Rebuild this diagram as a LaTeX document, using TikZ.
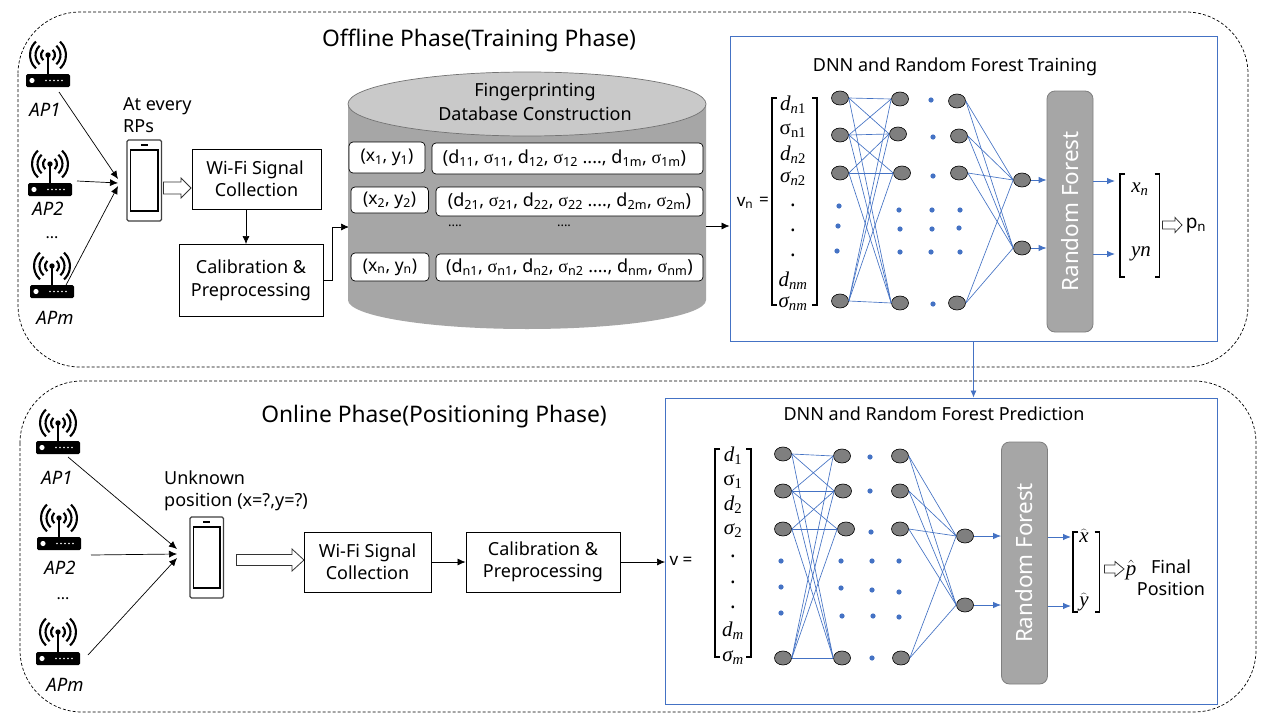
\documentclass[tikz,border=0pt]{standalone}
\usepackage{fontspec}
\setmainfont{Noto Sans}
\newfontfamily\serifgr{Liberation Serif}
\usetikzlibrary{arrows.meta,shapes.geometric}
\definecolor{nnblue}{HTML}{4472C4}
\definecolor{rfgray}{HTML}{A6A6A6}
\definecolor{rfedge}{HTML}{7F7F7F}
\definecolor{neuron}{HTML}{7F7F7F}
\definecolor{dbtop}{HTML}{C9C9C9}
\newcommand{\fs}[1]{\fontsize{#1}{#1}\selectfont}
\newcommand{\smallsub}[1]{\textsubscript{#1}}
\newcommand{\sg}{{\serifgr σ}}
\newcommand{\mi}[2]{{\serifgr\itshape #1\textsubscript{#2}}}
\newcommand{\mup}[2]{{\serifgr #1\textsubscript{#2}}}
\tikzset{
  phase/.style={dashed,dash pattern=on 3pt off 2pt,line width=0.7pt,draw=black,rounded corners=62pt},
  flowbox/.style={draw=black,line width=0.8pt,fill=white,inner sep=0pt,align=center,font=\fs{18}},
  rowbox/.style={draw=black,line width=0.7pt,fill=white,rounded corners=4pt,inner sep=0pt,font=\fs{17.5}},
  rowboxd/.style={rowbox,font=\fs{18}},
  flow/.style={-{Latex[length=8pt,width=7pt]},line width=0.7pt,black},
  nnpanel/.style={draw=nnblue,line width=0.9pt},
  neuronnode/.style={ellipse,draw=black,fill=neuron,line width=0.6pt,minimum width=17pt,minimum height=14pt,inner sep=0pt},
  nnline/.style={draw=nnblue,line width=0.65pt},
  nnarrow/.style={-{Latex[length=8pt,width=6.5pt]},nnblue,line width=0.9pt},
  rfbox/.style={draw=rfedge,line width=0.8pt,fill=rfgray,rounded corners=8pt,inner sep=0pt},
  rflabel/.style={rotate=90,text=white,font=\fs{22.4}},
  title/.style={font=\fs{22.8}},
  subtitle/.style={font=\fs{18}},
  aplabel/.style={font=\fs{18.5}\itshape},
  mathlabel/.style={inner sep=0pt,font=\fs{21}},
  plain/.style={inner sep=0pt,align=left,font=\fs{18}},
  holl/.style={draw=black!80,line width=0.8pt,fill=white},
  brk/.style={draw=black,line width=1.4pt}
}
% router: #1 = antenna x, #2 = arc-centre y, #3 = body top y
\newcommand{\router}[3]{%
  \fill[black,rounded corners=1.5pt] (#1-22,#3) rectangle (#1+22,#3+13);
  \fill[white] (#1-16,#3+6.5) circle (2.6);
  \foreach \k in {-1,3,7,11,15}{\fill[white] (#1+\k-1,#3+6.5) circle (0.9);}
  \draw[black,line width=2.2pt] (#1,#2) -- (#1,#3);
  \fill[black] (#1,#2) circle (2.7);
  \foreach \r in {7,12.5,18}{
    \draw[black,line width=2.1pt] ([shift={(-48:\r)}]#1,#2) arc (-48:48:\r);
    \draw[black,line width=2.1pt] ([shift={(132:\r)}]#1,#2) arc (132:228:\r);
  }
}
% phone
\newcommand{\phone}[4]{%
  \draw[black!75,line width=1.1pt,rounded corners=1.5pt,fill=white] (#1,#2) rectangle (#3,#4);
  \draw[black,line width=1.1pt] (#1+3.5,#2+10) rectangle (#3-3.5,#4-10);
  \draw[black,line width=1.1pt] ({(#1+#3)/2-3.5},#2+5) -- ({(#1+#3)/2+3.5},#2+5);
}
% hollow arrow: x1,xhead,x2,y,halfbody,halfhead
\newcommand{\hollow}[6]{%
  \draw[holl] (#1,#4-#5) -- (#2,#4-#5) -- (#2,#4-#6) -- (#3,#4) -- (#2,#4+#6) -- (#2,#4+#5) -- (#1,#4+#5) -- cycle;
}
% bracket pair: xl,xr,y1,y2
\newcommand{\brackets}[4]{%
  \draw[brk] (#1+5,#3) -- (#1,#3) -- (#1,#4) -- (#1+5,#4);
  \draw[brk] (#2-5,#3) -- (#2,#3) -- (#2,#4) -- (#2-5,#4);
}
\newcommand{\nndot}[2]{\fill[nnblue] (#1,#2) circle (2.6);}
\begin{document}
\begin{tikzpicture}[x=1pt,y=-1pt]
\useasboundingbox[fill=white] (0,0) rectangle (1280,720);
% phases
\draw[phase] (18,12) rectangle (1248,367);
\draw[phase] (20,381) rectangle (1256,712);
\node[title] (offT) at (479,41) {Offline Phase(Training Phase)};
\node[title] (onT) at (434,417) {Online Phase(Positioning Phase)};

% ---------- offline left
\router{48}{55}{74}
\router{50}{164}{183}
\router{52}{266}{285}
\node[aplabel] (ap1) at (45,110) {AP1};
\node[aplabel] (ap2) at (48,209) {AP2};
\node[font=\fs{16}] (apd) at (52,238) {...};
\node[aplabel] (apm) at (55,318) {APm};
\coordinate (a1s) at (59,92); \coordinate (a1e) at (118,179);
\coordinate (a2s) at (77,181); \coordinate (a2e) at (118,183);
\coordinate (a3s) at (65,287); \coordinate (a3e) at (118,186);
\draw[flow] (a1s) -- (a1e);
\draw[flow] (a2s) -- (a2e);
\draw[flow] (a3s) -- (a3e);
\phone{127}{140}{161.5}{221}
\node[plain,anchor=north west] (rps) at (123,97) {At every\\[4pt]RPs};
\hollow{163.5}{181}{191}{188}{6}{10}
\node[flowbox,minimum width=129pt,minimum height=60pt] (wifi1) at (256.5,179) {\kern-3pt Wi-Fi Signal\\[4pt]Collection};
\node[flowbox,minimum width=144pt,minimum height=72pt] (cal1) at (251,280) {Calibration \&\\[5pt]Preprocessing};
\draw[flow] (246,209) -- (246,244);
\coordinate (dbin) at (349,227);
\draw[flow] (cal1.east) -- (332,280) -- (332,227) -- (dbin);

% ---------- database
\path[fill=rfgray] (348,103) -- (348,300) arc (180:0:179 and 29) -- (706,103) -- cycle;
\draw[fill=dbtop,draw=black!55,line width=0.7pt] (527,104) ellipse (179 and 32);
\node[align=center,inner sep=0pt,font=\fs{18}] (dbt) at (535,102) {Fingerprinting\\[6pt]Database Construction};
\node[rowbox,minimum width=76pt,minimum height=31pt] (x1) at (387,157.5) {(x\smallsub{1}, y\smallsub{1})};
\node[rowboxd,minimum width=271pt,minimum height=31pt] (d1) at (567.5,158.5) {\kern-6pt(d\smallsub{11}, \sg\smallsub{11}, d\smallsub{12}, \sg\smallsub{12} ...., d\smallsub{1m}, \sg\smallsub{1m})};
\node[rowbox,minimum width=77.5pt,minimum height=26pt] (x2) at (389.7,200) {(x\smallsub{2}, y\smallsub{2})};
\node[rowboxd,minimum width=267pt,minimum height=29pt] (d2) at (569.5,201.5) {(d\smallsub{21}, \sg\smallsub{21}, d\smallsub{22}, \sg\smallsub{22} ...., d\smallsub{2m}, \sg\smallsub{2m})};
\node[font=\fs{13},inner sep=0pt] (dt1) at (455,226) {....};
\node[font=\fs{13},inner sep=0pt] (dt2) at (564,226) {....};
\node[rowbox,minimum width=78pt,minimum height=28pt] (x3) at (390,267) {(x\smallsub{n}, y\smallsub{n})};
\node[rowboxd,minimum width=267pt,minimum height=27pt] (d3) at (569.5,267.5) {(d\smallsub{n1}, \sg\smallsub{n1}, d\smallsub{n2}, \sg\smallsub{n2} ...., d\smallsub{nm}, \sg\smallsub{nm})};

% ---------- upper panel
\node[nnpanel,minimum width=487pt,minimum height=305pt,inner sep=0pt] (pU) at (973.5,188.5) {};
\coordinate (dbout) at (706,226);
\draw[flow] (dbout) -- (dbout -| pU.west);
\node[subtitle] (tU) at (955,67) {DNN and Random Forest Training};
\node[inner sep=0pt,font=\fs{17}] (vn) at (745,203) {v\smallsub{n}};
\node[inner sep=0pt,font=\fs{17}] (veq) at (764,201) {=};
\brackets{772}{817}{98}{305}
\node[mathlabel] (m1) at (793,105) {\mi{d}{n\upshape 1}};
\node[mathlabel] (m2) at (793,131) {\mup{σ}{n1}};
\node[mathlabel] (m3) at (793,155) {\mi{d}{n\upshape 2}};
\node[mathlabel] (m4) at (793,179) {\mi{σ}{n\upshape 2}};
\node[mathlabel] (m5) at (793,205) {.};
\node[mathlabel] (m6) at (793,230) {.};
\node[mathlabel] (m7) at (793,255) {.};
\node[mathlabel] (m8) at (793,281) {\mi{d}{nm}};
\node[mathlabel] (m9) at (793,304) {\mi{σ}{nm}};

\foreach \n/\x/\y in {a1/840/98,a2/840/135,a3/840/173,a4/840/301,
  b1/900/99,b2/898/134,b3/902/173,b4/900/303,
  c1/957/101,c2/959/136,c3/959/173,c4/957/303,
  e1/1022/180,e2/1022/248}{
  \node[neuronnode] (\n) at (\x,\y) {};
}
\foreach \s/\t in {a1/b1,a1/b2,a1/b4,a2/b1,a2/b2,a2/b3,a2/b4,a3/b2,a3/b3,a3/b4,a4/b1,a4/b2,a4/b3,a4/b4,
  c1/e1,c1/e2,c2/e1,c2/e2,c3/e1,c3/e2,c4/e1,c4/e2}{
  \draw[nnline] (\s.east) -- (\t.west);
}
\foreach \x/\y in {839/206,838/226,837/251,899/210,900/229,900/252,931/100,933/137,933/176,932/210,932/229,931/252,933/304,960/210,959/228,960/252}{\nndot{\x}{\y}}
\node[rfbox,minimum width=46pt,minimum height=241pt] (rfU) at (1070,211.5) {};
\node[rflabel] (rfUt) at (rfU.center) {Random Forest};
\draw[nnarrow] (e1.east) -- (e1 -| rfU.west);
\draw[nnarrow] (e2.east) -- (e2 -| rfU.west);
\coordinate (oU1) at (1115,181); \coordinate (oU2) at (1115,254);
\draw[nnarrow] (oU1 -| rfU.east) -- (oU1);
\draw[nnarrow] (oU2 -| rfU.east) -- (oU2);
\brackets{1120}{1159.5}{174}{277}
\node[mathlabel] (xn) at (1140,189) {\mi{x}{n}};
\node[mathlabel] (yn) at (1141,254) {{\serifgr\itshape yn}};
\hollow{1162.5}{1175}{1182}{225}{4}{7.5}
\node[inner sep=0pt,font=\fs{19}] (pn) at (1196,226) {p\smallsub{n}};

% link between panels
\node[nnpanel,minimum width=552pt,minimum height=306pt,inner sep=0pt] (pL) at (941,551) {};
\draw[-{Latex[length=7pt,width=6pt]},nnblue,line width=0.8pt] (pU.south) -- (pU.south |- pL.north);

% ---------- online left
\router{58}{423}{441}
\router{59}{518}{537}
\router{58}{632}{652}
\node[aplabel] (lap1) at (57,478) {AP1};
\node[aplabel] (lap2) at (60,568) {AP2};
\node[font=\fs{16}] (lapd) at (63,599) {...};
\node[aplabel] (lapm) at (65,685) {APm};
\coordinate (b1s) at (68,457); \coordinate (b1e) at (177,549);
\coordinate (b2s) at (91,555); \coordinate (b2e) at (177,554);
\coordinate (b3s) at (88,655); \coordinate (b3e) at (177,558);
\draw[flow] (b1s) -- (b1e);
\draw[flow] (b2s) -- (b2e);
\draw[flow] (b3s) -- (b3e);
\phone{190}{517}{223.5}{598}
\node[plain,anchor=north west] (unk) at (164,471) {Unknown\\[4pt]position (x=?,y=?)};
\hollow{236.5}{292}{304}{560}{5.5}{11}
\node[flowbox,minimum width=127pt,minimum height=60pt] (wifi2) at (367.5,562) {Wi-Fi Signal\\[4pt]Collection};
\node[flowbox,minimum width=154pt,minimum height=60pt] (cal2) at (543,562) {Calibration \&\\[4pt]Preprocessing};
\draw[flow] (wifi2) -- (cal2);
\coordinate (vin) at (665,562);
\draw[flow] (cal2.east) -- (vin);

% ---------- lower panel
\node[subtitle] (tL) at (934,414) {DNN and Random Forest Prediction};
\node[inner sep=0pt,font=\fs{17}] (veq2) at (681,561) {v =};
\brackets{715}{751}{449}{657}
\node[mathlabel] (q1) at (733,456) {\mi{d}{\upshape 1}};
\node[mathlabel] (q2) at (733,482) {\mup{σ}{1}};
\node[mathlabel] (q3) at (733,505) {\mi{d}{\upshape 2}};
\node[mathlabel] (q4) at (733,531) {\mi{σ}{\upshape 2}};
\node[mathlabel] (q5) at (733,556) {.};
\node[mathlabel] (q6) at (733,582) {.};
\node[mathlabel] (q7) at (733,607) {.};
\node[mathlabel] (q8) at (733,631) {\mi{d}{m}};
\node[mathlabel] (q9) at (733,658) {\mi{σ}{m}};
\foreach \n/\x/\y in {f1/783/454,f2/783/491,f3/783/529,f4/783/658,
  g1/842/456,g2/843/491,g3/846/529,g4/842/658,
  h1/900/456,h2/900/491,h3/900/529,h4/901/658,
  k1/965/536,k2/965/605}{
  \node[neuronnode] (\n) at (\x,\y) {};
}
\foreach \s/\t in {f1/g1,f1/g2,f1/g4,f2/g1,f2/g2,f2/g3,f2/g4,f3/g2,f3/g3,f3/g4,f4/g1,f4/g2,f4/g3,f4/g4,
  h1/k1,h1/k2,h2/k1,h2/k2,h3/k1,h3/k2,h4/k1,h4/k2}{
  \draw[nnline] (\s.east) -- (\t.west);
}
\foreach \x/\y in {781/561,781/587,781/613,841/561,841/588,842/616,870/457,870/491,871/532,872/561,872/590,873/616,872/658,899/561,899/592,899/617}{\nndot{\x}{\y}}
\node[rfbox,minimum width=46pt,minimum height=242pt] (rfL) at (1024.5,563) {};
\node[rflabel] (rfLt) at (rfL.center) {Random Forest};
\draw[nnarrow] (k1.east) -- (k1 -| rfL.west);
\draw[nnarrow] (k2.east) -- (k2 -| rfL.west);
\coordinate (oL1) at (1071,537); \coordinate (oL2) at (1071,606);
\draw[nnarrow] (oL1 -| rfL.east) -- (oL1);
\draw[nnarrow] (oL2 -| rfL.east) -- (oL2);
\brackets{1073}{1099.5}{532}{612}
\node[mathlabel] (xh) at (1084,536) {$\widehat{\hbox{\serifgr\itshape x}}$};
\node[mathlabel] (yh) at (1084,602) {$\widehat{\hbox{\serifgr\itshape y}}$};
\hollow{1104.5}{1115}{1124}{569}{4}{7.5}
\node[mathlabel] (ph) at (1131,570) {$\hat{\hbox{\serifgr\itshape p}}$};
\node[align=center,inner sep=0pt,font=\fs{18}] (fin) at (1171,578) {Final\\[4pt]Position};
\end{tikzpicture}
\end{document}
